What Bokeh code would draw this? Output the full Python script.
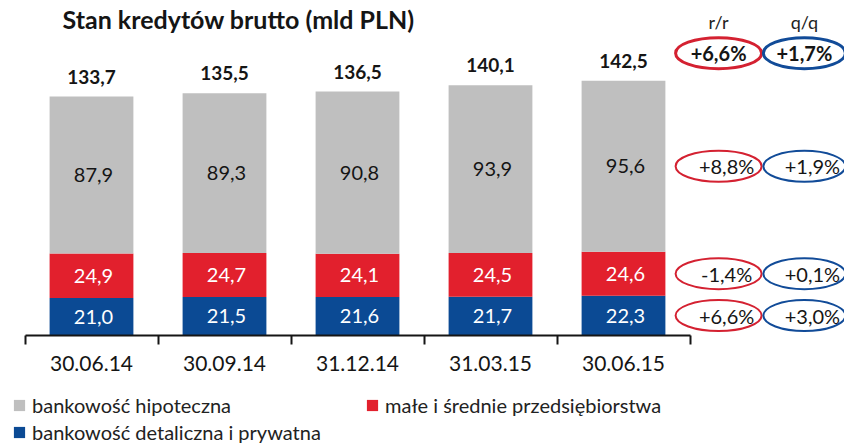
from bokeh.plotting import figure
from bokeh.layouts import column
from bokeh.models import (ColumnDataSource, FixedTicker, Legend, LegendItem, Label,
                          Range1d, LinearAxis)
from bokeh.core.properties import value
from bokeh.embed import file_html
from bokeh.resources import INLINE

# ---- data ----
dates = ["30.06.14", "30.09.14", "31.12.14", "31.03.15", "30.06.15"]
detal = [21.0, 21.5, 21.6, 21.7, 22.3]
msp = [24.9, 24.7, 24.1, 24.5, 24.6]
hipo = [87.9, 89.3, 90.8, 93.9, 95.6]
total = [133.7, 135.5, 136.5, 140.1, 142.5]
yoy = ["+6,6%", "+8,8%", "-1,4%", "+6,6%"]   # total, hipo, msp, detal
qoq = ["+1,7%", "+1,9%", "+0,1%", "+3,0%"]
series_names = ["bankowość hipoteczna", "małe i średnie przedsiębiorstwa",
                "bankowość detaliczna i prywatna"]

FONT = "Lato"
BLUE = "#0b4a94"
RED = "#e2202d"
GRAY = "#bfbfbf"
ERED = "#d42131"
EBLUE = "#114b98"
TXT = "#151515"


def fmt(v):
    return f"{v:.1f}".replace(".", ",")


x = list(range(len(dates)))
src = ColumnDataSource(dict(
    x=x, detal=detal, msp=msp, hipo=hipo, total=total,
    detal_y=[d / 2 for d in detal],
    msp_y=[d + m / 2 for d, m in zip(detal, msp)],
    hipo_y=[d + m + h / 2 for d, m, h in zip(detal, msp, hipo)],
    detal_t=[fmt(v) for v in detal],
    msp_t=[fmt(v) for v in msp],
    hipo_t=[fmt(v) for v in hipo],
    total_t=[fmt(v) for v in total],
))

PXX, PXY = 133.0, 1.787
X0, X1 = -91 / PXX, (844 - 91) / PXX
Y1 = 335 / PXY
p = figure(width=844, height=373, output_backend="svg", toolbar_location=None,
           x_range=Range1d(X0, X1), y_range=Range1d(0, Y1),
           x_axis_type=None, y_axis_type=None,
           min_border=0, min_border_bottom=38)
p.outline_line_color = None
p.grid.visible = False

rs = p.vbar_stack(["detal", "msp", "hipo"], x="x", width=0.63,
                  fill_color=[BLUE, RED, GRAY], line_color=None, source=src)

common = dict(text_align="center", text_baseline="middle",
              text_font=value(FONT), text_font_size="20px", source=src, x_offset=2)
p.text(x="x", y="detal_y", text="detal_t", text_color="white", **common)
p.text(x="x", y="msp_y", text="msp_t", text_color="white", **common)
p.text(x="x", y="hipo_y", text="hipo_t", text_color=TXT, **common)
p.text(x="x", y="total", text="total_t", text_color=TXT, y_offset=-13,
       text_align="center", text_baseline="bottom", text_font=value(FONT),
       text_font_size="19px", text_font_style="bold", source=src)

# x axis: boundary ticks as minor ticks, labels at centers
xaxis = LinearAxis(
    ticker=FixedTicker(ticks=x, minor_ticks=[i - 0.5 for i in range(len(dates) + 1)]),
    major_label_overrides={i: d for i, d in enumerate(dates)},
    bounds=(-0.5, len(dates) - 0.5),
    axis_line_width=2, axis_line_color=TXT,
    major_tick_out=0, major_tick_in=0,
    minor_tick_out=9, minor_tick_in=0, minor_tick_line_width=2,
    minor_tick_line_color=TXT,
    major_label_standoff=11, major_label_text_font=FONT,
    major_label_text_font_size="21px", major_label_text_color=TXT)
p.add_layout(xaxis, "below")

# right-hand change annotations
last = len(dates) - 1
rows_y = [total[last] + 15.5,
          detal[last] + msp[last] + hipo[last] / 2,
          detal[last] + msp[last] / 2,
          detal[last] / 2]
col_r = [last + 0.715] * 4
col_q = [last + 1.36] * 4
lw = [3, 2, 2, 2]
p.ellipse(x=col_r, y=rows_y, width=86, height=31, width_units="screen",
          height_units="screen", fill_color=None, line_color=ERED, line_width=lw)
p.ellipse(x=col_q, y=rows_y, width=82, height=31, width_units="screen",
          height_units="screen", fill_color=None, line_color=EBLUE, line_width=lw)
ann = ColumnDataSource(dict(xr=col_r, xq=col_q, y=rows_y, r=yoy, q=qoq,
                            style=["bold", "normal", "normal", "normal"],
                            off=[0, 8, 8, 8]))
p.text(x="xr", y="y", text="r", source=ann, text_align="center",
       text_baseline="middle", text_font=value(FONT), text_font_size="20px",
       text_font_style="style", text_color=TXT, x_offset="off")
p.text(x="xq", y="y", text="q", source=ann, text_align="center",
       text_baseline="middle", text_font=value(FONT), text_font_size="20px",
       text_font_style="style", text_color=TXT, x_offset="off")
p.text(x=[col_r[0], col_q[0]], y=[total[last] + 33] * 2, text=["r/r", "q/q"],
       text_align="center", text_baseline="middle", text_font=value(FONT),
       text_font_size="18px", text_color="#222222")

p.add_layout(Label(x=X0 + 62 / PXX, y=Y1 - 18 / PXY,
                   text="Stan kredytów brutto (mld PLN)", text_font=FONT,
                   text_font_size="25px", text_font_style="bold",
                   text_color=TXT, text_baseline="middle"))

# legend in a strip below the chart
q = figure(width=844, height=70, output_backend="svg", toolbar_location=None,
           x_range=Range1d(0, 1), y_range=Range1d(0, 1),
           x_axis_type=None, y_axis_type=None, min_border=0)
q.outline_line_color = None
q.grid.visible = False
leg_r = [q.vbar(x=[-10], top=[0], width=0.1, fill_color=c, line_color=None)
         for c in (GRAY, RED, BLUE)]
legend = Legend(items=[LegendItem(label=n, renderers=[r])
                       for n, r in zip(series_names, leg_r)],
                orientation="horizontal", ncols=2, location=(12, -1),
                margin=0, padding=0, spacing=3, label_height=24,
                glyph_width=14, glyph_height=14, label_standoff=6,
                label_width=330, label_text_font=FONT,
                label_text_font_size="20px", label_text_color="#222222",
                border_line_color=None, background_fill_alpha=0)
q.add_layout(legend)

open("out.html", "w").write(file_html(column(p, q, spacing=0), INLINE))
